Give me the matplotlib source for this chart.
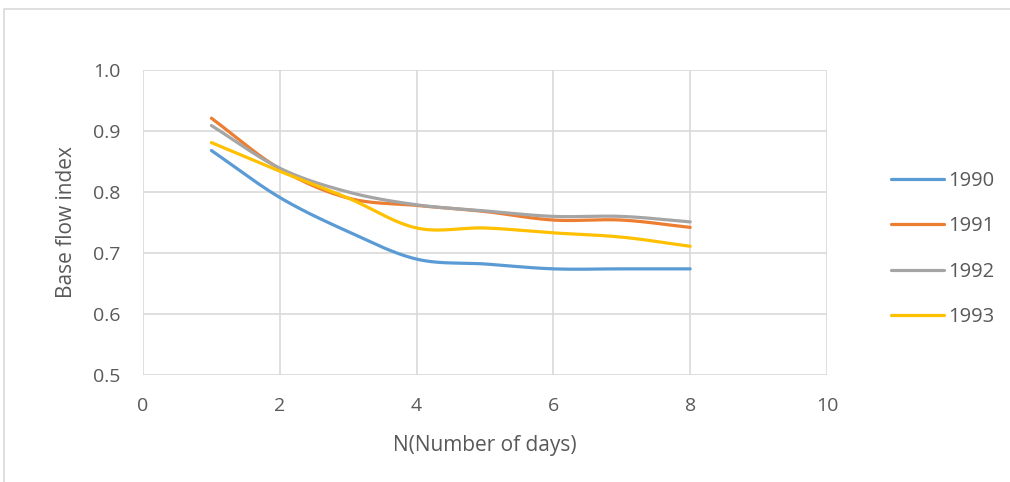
import numpy as np
import matplotlib.pyplot as plt
from matplotlib.patches import Rectangle

# base flow index for N = 1..8 days
days = [1, 2, 3, 4, 5, 6, 7, 8]
bfi_1990 = [0.868, 0.791, 0.735, 0.690, 0.682, 0.674, 0.674, 0.674]
bfi_1991 = [0.921, 0.838, 0.790, 0.778, 0.768, 0.754, 0.754, 0.742]
bfi_1992 = [0.909, 0.839, 0.800, 0.779, 0.769, 0.760, 0.760, 0.751]
bfi_1993 = [0.881, 0.834, 0.790, 0.741, 0.741, 0.733, 0.726, 0.711]
years = ['1990', '1991', '1992', '1993']
colors = ['#5b9bd5', '#ed7d31', '#a5a5a5', '#ffc000']

x_ticks = [0, 2, 4, 6, 8, 10]
y_ticks = [0.5, 0.6, 0.7, 0.8, 0.9, 1.0]


def smooth(x, y, n=30):
    """Catmull-Rom curve through the points, like a smoothed line chart"""
    x = np.asarray(x, float)
    y = np.asarray(y, float)
    px = np.concatenate([[2 * x[0] - x[1]], x, [2 * x[-1] - x[-2]]])
    py = np.concatenate([[2 * y[0] - y[1]], y, [2 * y[-1] - y[-2]]])
    xs, ys = [], []
    t = np.linspace(0, 1, n)
    for i in range(1, len(px) - 2):
        for p, out in ((px, xs), (py, ys)):
            p0, p1, p2, p3 = p[i - 1], p[i], p[i + 1], p[i + 2]
            seg = 0.5 * ((2 * p1) + (-p0 + p2) * t
                         + (2 * p0 - 5 * p1 + 4 * p2 - p3) * t ** 2
                         + (-p0 + 3 * p1 - 3 * p2 + p3) * t ** 3)
            out.extend(seg if i == 1 else seg[1:])
    return np.array(xs), np.array(ys)


plt.rcParams['font.family'] = ['Open Sans', 'DejaVu Sans']
text_color = '#595959'
grid_color = '#d9d9d9'

fig = plt.figure(figsize=(10.10, 4.82), dpi=100)
fig.patches.append(Rectangle((4 / 1010, -0.1), 1.2, 1 - 9 / 482 + 0.1,
                             transform=fig.transFigure, fill=False,
                             edgecolor=grid_color, linewidth=1.2))

ax = fig.add_axes([143 / 1010, 1 - 375 / 482, 684 / 1010, 305 / 482])

for series, year, c in zip([bfi_1990, bfi_1991, bfi_1992, bfi_1993], years, colors):
    sx, sy = smooth(days, series)
    ax.plot(sx, sy, color=c, lw=2.3, solid_capstyle='round', label=year)

ax.set_xlim(0, 10)
ax.set_ylim(0.5, 1.0)
ax.set_xticks(x_ticks)
ax.set_yticks(y_ticks)
ax.set_yticklabels([f'{v:.1f}' for v in y_ticks])
ax.grid(True, color=grid_color, lw=1.2)
ax.set_axisbelow(True)
for s in ax.spines.values():
    s.set_visible(False)
ax.tick_params(length=0, labelsize=14, colors=text_color)
ax.tick_params(axis='x', pad=16)
ax.tick_params(axis='y', pad=16)

ax.set_xlabel('N(Number of days)', fontsize=15, color=text_color, labelpad=14)
ax.set_ylabel('Base flow index', fontsize=15, color=text_color, labelpad=12)

leg = ax.legend(loc='center left', bbox_to_anchor=(873 / 1010, 1 - 249 / 482),
                bbox_transform=fig.transFigure, frameon=False, fontsize=14.5,
                handlelength=2.65, handletextpad=0.2, labelspacing=1.25)
for t in leg.get_texts():
    t.set_color(text_color)

fig.savefig('out.png', dpi=100)
